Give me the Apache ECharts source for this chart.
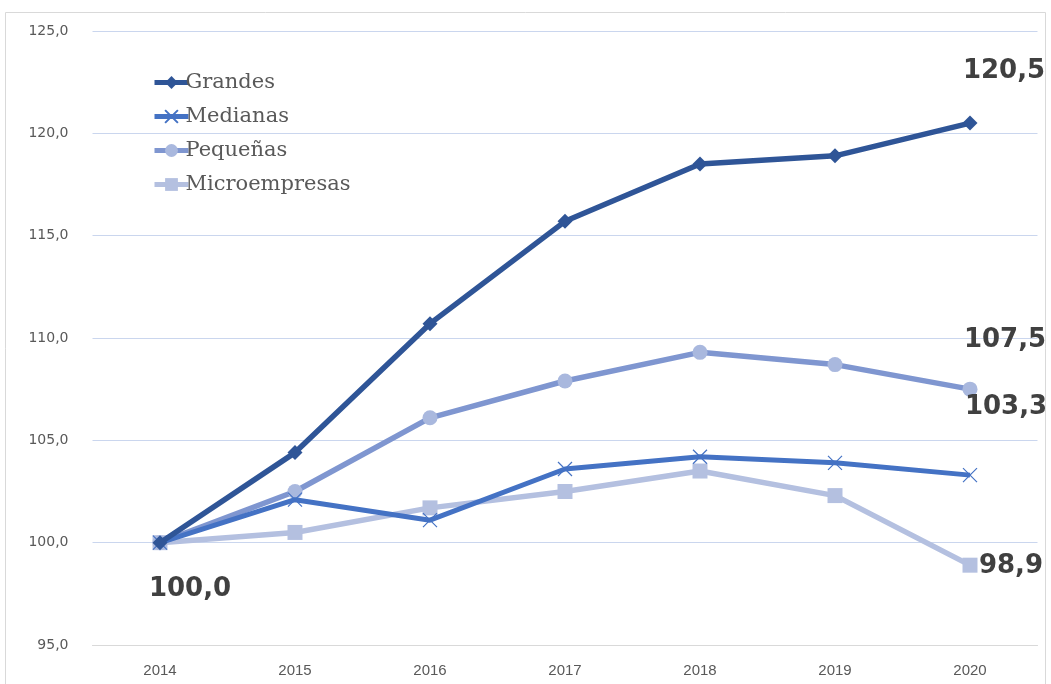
<!DOCTYPE html>
<html>
<head>
<meta charset="utf-8">
<script src="https://cdn.jsdelivr.net/npm/echarts@6/dist/echarts.min.js"></script>
<style>html,body{margin:0;padding:0;background:#fff}#c{width:1051px;height:684px}</style>
</head>
<body>
<div id="c"></div>
<script>
const years = ['2014','2015','2016','2017','2018','2019','2020'];
const seriesNames = ['Grandes','Medianas','Pequeñas','Microempresas'];
const grandes = [100.0, 104.4, 110.7, 115.7, 118.5, 118.9, 120.5];
const medianas = [100.0, 102.1, 101.1, 103.6, 104.2, 103.9, 103.3];
const pequenas = [100.0, 102.5, 106.1, 107.9, 109.3, 108.7, 107.5];
const micro = [100.0, 100.5, 101.7, 102.5, 103.5, 102.3, 98.9];
const yTicks = [95, 100, 105, 110, 115, 120, 125];

const fmt = v => v.toFixed(1).replace('.', ',');
const labelStyle = (offset) => ({
  show: true, position: 'inside', offset: offset, formatter: p => fmt(p.value),
  fontFamily: 'DejaVu Sans', fontWeight: 'bold', fontSize: 26, color: '#404040',
  align: 'center', verticalAlign: 'middle'
});
function build(values, labels) {
  return values.map((v, i) => labels[i] ? { value: v, label: labelStyle(labels[i]) } : v);
}
const crossPath = 'path://M0,0L10,10M10,0L0,10';

const chart = echarts.init(document.getElementById('c'));
chart.setOption({
  animation: false,
  backgroundColor: '#fff',
  graphic: [{ type: 'rect', shape: { x: 5.5, y: 12.5, width: 1040, height: 680 }, style: { fill: 'none', stroke: '#D9D9D9', lineWidth: 1 }, silent: true, z: -1 }],
  grid: { left: 92.5, right: 13.5, top: 31, bottom: 39 },
  legend: {
    orient: 'vertical', left: 147, top: 67, itemGap: 13, itemWidth: 34, itemHeight: 16,
    data: seriesNames,
    lineStyle: { width: 5 },
    textStyle: { fontFamily: 'DejaVu Serif', fontSize: 21, color: '#595959', padding: [0, 0, 0, -8] }
  },
  xAxis: {
    type: 'category', data: years, boundaryGap: true,
    axisLine: { lineStyle: { color: '#D9D9D9', width: 1 } },
    axisTick: { show: false },
    axisLabel: { fontFamily: 'Liberation Sans', fontSize: 15, color: '#595959', margin: 18 }
  },
  yAxis: {
    type: 'value', min: yTicks[0], max: yTicks[yTicks.length - 1], interval: 5,
    axisLine: { show: false }, axisTick: { show: false },
    axisLabel: { fontFamily: 'DejaVu Sans', fontSize: 14, color: '#595959', margin: 24, formatter: v => fmt(v) },
    splitLine: { lineStyle: { color: '#CAD6EE', width: 1 } }
  },
  series: [
    { name: seriesNames[3], type: 'line', data: build(micro, [[30,47],null,null,null,null,null,[41,1]]),
      symbol: 'rect', symbolSize: 15, lineStyle: { color: '#B4C0E0', width: 5.5 }, itemStyle: { color: '#B4C0E0' }, z: 2 },
    { name: seriesNames[2], type: 'line', data: build(pequenas, [null,null,null,null,null,null,[35,-49]]),
      symbol: 'circle', symbolSize: 15, lineStyle: { color: '#7F96D0', width: 5.5 }, itemStyle: { color: '#A9B8DE' }, z: 3 },
    { name: seriesNames[1], type: 'line', data: build(medianas, [null,null,null,null,null,null,[36,-68]]),
      symbol: crossPath, symbolSize: 14, lineStyle: { color: '#4472C4', width: 5 }, itemStyle: { color: '#4472C4', borderColor: '#4472C4', borderWidth: 1.2 }, z: 4 },
    { name: seriesNames[0], type: 'line', data: build(grandes, [null,null,null,null,null,null,[34,-52]]),
      symbol: 'diamond', symbolSize: 15, lineStyle: { color: '#2F5597', width: 5.5 }, itemStyle: { color: '#2F5597' }, z: 5 }
  ]
});
</script>
</body>
</html>
